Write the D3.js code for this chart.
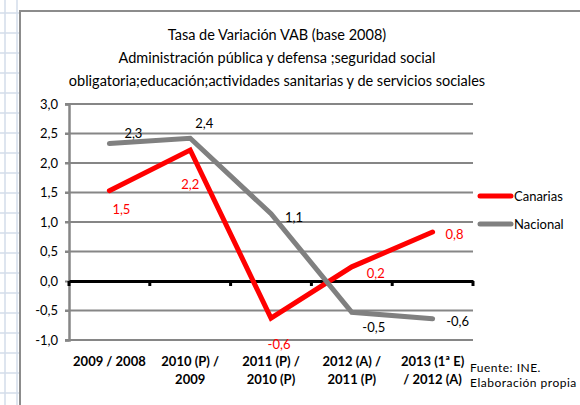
<!DOCTYPE html>
<html>
<head>
<meta charset="utf-8">
<script src="https://cdn.jsdelivr.net/npm/d3@7"></script>
<style>
  body { margin: 0; background: #fff; }
  svg { display: block; font-family: Lato, "Open Sans", sans-serif; }
</style>
</head>
<body>
<svg id="chart" width="580" height="405"></svg>
<script>
// ---- data ----
const categories = ["2009 / 2008", "2010 (P) / 2009", "2011 (P) / 2010 (P)", "2012 (A) / 2011 (P)", "2013 (1ª E) / 2012 (A)"];
const categoryLines = [
    ["2009 / 2008"],
    ["2010 (P) /", "2009"],
    ["2011 (P) /", "2010 (P)"],
    ["2012 (A) /", "2011 (P)"],
    ["2013 (1ª E)", "/ 2012 (A)"]
];
const canarias = [1.53, 2.22, -0.63, 0.24, 0.83];
const nacional = [2.33, 2.42, 1.14, -0.53, -0.64];
const yTicks = [-1, -0.5, 0, 0.5, 1, 1.5, 2, 2.5, 3];
const titleLines = [
    "Tasa de Variación VAB (base 2008)",
    "Administración pública y defensa ;seguridad social",
    "obligatoria;educación;actividades sanitarias y de servicios sociales"
];
const sourceLines = ["Fuente: INE.", "Elaboración propia"];

// label offsets (dx, dy) relative to the point
const canariasOffsets = [[12, 18], [0, 34], [8, 26], [24, 6], [22, 2]];
const nacionalOffsets = [[24, -11], [14, -15], [23, 3], [22, 15], [25, 2]];

const svg = d3.select("#chart");
const comma = v => d3.format(".1f")(v).replace(".", ",").replace("\u2212", "-");

/* background spreadsheet grid */
const bg = svg.append("g").attr("stroke", "#d3dcea").attr("stroke-width", 1.5);
for (let y = 13; y < 405; y += 20) {
    bg.append("line").attr("x1", 0).attr("x2", 20).attr("y1", y).attr("y2", y);
}
[5, 17].forEach(x => bg.append("line").attr("x1", x).attr("x2", x).attr("y1", 0).attr("y2", 405));

// chart area
svg.append("rect")
    .attr("x", 20).attr("y", 11)
    .attr("width", 580).attr("height", 420)
    .attr("fill", "#fff")
    .attr("stroke", "#8c8c8c")
    .attr("stroke-width", 2);

// title
svg.append("g").selectAll("text")
    .data(titleLines)
    .join("text")
    .attr("x", 277)
    .attr("y", (d, i) => 40 + i * 23)
    .attr("text-anchor", "middle")
    .attr("font-size", 14.5)
    .attr("fill", "#000")
    .text(d => d);

// scales
const x = d3.scaleBand().domain(categories).range([69, 473]);
const y = d3.scaleLinear().domain([-1, 3]).range([340, 104]);
const cx = c => x(c) + x.bandwidth() / 2;

// gridlines
svg.append("g")
    .selectAll("line")
    .data(yTicks.filter(d => d !== 0))
    .join("line")
    .attr("x1", 65).attr("x2", 473)
    .attr("y1", d => y(d)).attr("y2", d => y(d))
    .attr("stroke", "#868686")
    .attr("stroke-width", 2);

// y axis
const yAxis = svg.append("g")
    .attr("transform", "translate(69,0)")
    .call(d3.axisLeft(y).tickValues(yTicks).tickSize(4).tickFormat(comma));
yAxis.select(".domain").attr("stroke", "#868686").attr("stroke-width", 2.5);
yAxis.selectAll(".tick line").attr("stroke", "#868686").attr("stroke-width", 2);
yAxis.selectAll(".tick text")
    .attr("x", -11)
    .attr("font-size", 13)
    .attr("font-family", "Lato, sans-serif")
    .attr("fill", "#000");

// zero axis with category ticks
const xAxis = svg.append("g")
    .attr("transform", `translate(0,${y(0)})`)
    .call(d3.axisBottom(x).tickSize(0).tickFormat(""));
xAxis.select(".domain").attr("stroke", "#000").attr("stroke-width", 3);
xAxis.append("g")
    .selectAll("line")
    .data(categories.concat([null]))
    .join("line")
    .attr("x1", d => d === null ? 473 : x(d))
    .attr("x2", d => d === null ? 473 : x(d))
    .attr("y1", 0).attr("y2", 5)
    .attr("stroke", "#000")
    .attr("stroke-width", 3);

// category labels
const catLabels = svg.append("g")
    .selectAll("text")
    .data(categories)
    .join("text")
    .attr("x", d => cx(d))
    .attr("y", 366)
    .attr("text-anchor", "middle")
    .attr("font-size", 13)
    .attr("font-weight", "bold")
    .attr("fill", "#000");
catLabels.selectAll("tspan")
    .data((d, i) => categoryLines[i])
    .join("tspan")
    .attr("x", function() { return d3.select(this.parentNode).attr("x"); })
    .attr("dy", (d, i) => i === 0 ? 0 : 18)
    .text(d => d);

// series
const series = [
    {name: "Canarias", values: canarias, color: "#ff0000", offsets: canariasOffsets},
    {name: "Nacional", values: nacional, color: "#808080", offsets: nacionalOffsets}
];
const line = d3.line()
    .x((d, i) => cx(categories[i]))
    .y(d => y(d));

// red first, gray drawn over it at the crossing
series.forEach(s => {
    svg.append("path")
        .datum(s.values)
        .attr("d", line)
        .attr("fill", "none")
        .attr("stroke", s.color)
        .attr("stroke-width", 5)
        .attr("stroke-linejoin", "miter")
        .attr("stroke-linecap", "round");
});

series.forEach(s => {
    svg.append("g")
        .selectAll("text")
        .data(s.values)
        .join("text")
        .attr("x", (d, i) => cx(categories[i]) + s.offsets[i][0])
        .attr("y", (d, i) => y(d) + s.offsets[i][1] + 5)
        .attr("text-anchor", "middle")
        .attr("font-size", 13)
        .attr("fill", s.name === "Canarias" ? "#ff0000" : "#000")
        .text(d => comma(d));
});

// legend
const legend = svg.append("g")
    .selectAll("g")
    .data(series)
    .join("g")
    .attr("transform", (d, i) => `translate(480,${196 + i * 28})`);
legend.append("line")
    .attr("x1", 0).attr("x2", 31)
    .attr("stroke", d => d.color)
    .attr("stroke-width", 5)
    .attr("stroke-linecap", "round");
legend.append("text")
    .attr("x", 34).attr("y", 5)
    .attr("font-size", 13)
    .attr("fill", "#000")
    .text(d => d.name);

// source note
svg.append("g").selectAll("text")
    .data(sourceLines)
    .join("text")
    .attr("x", 470)
    .attr("y", (d, i) => 372 + i * 15)
    .attr("font-size", 12)
    .attr("letter-spacing", 0.5)
    .attr("fill", "#000")
    .text(d => d);
</script>
</body>
</html>
